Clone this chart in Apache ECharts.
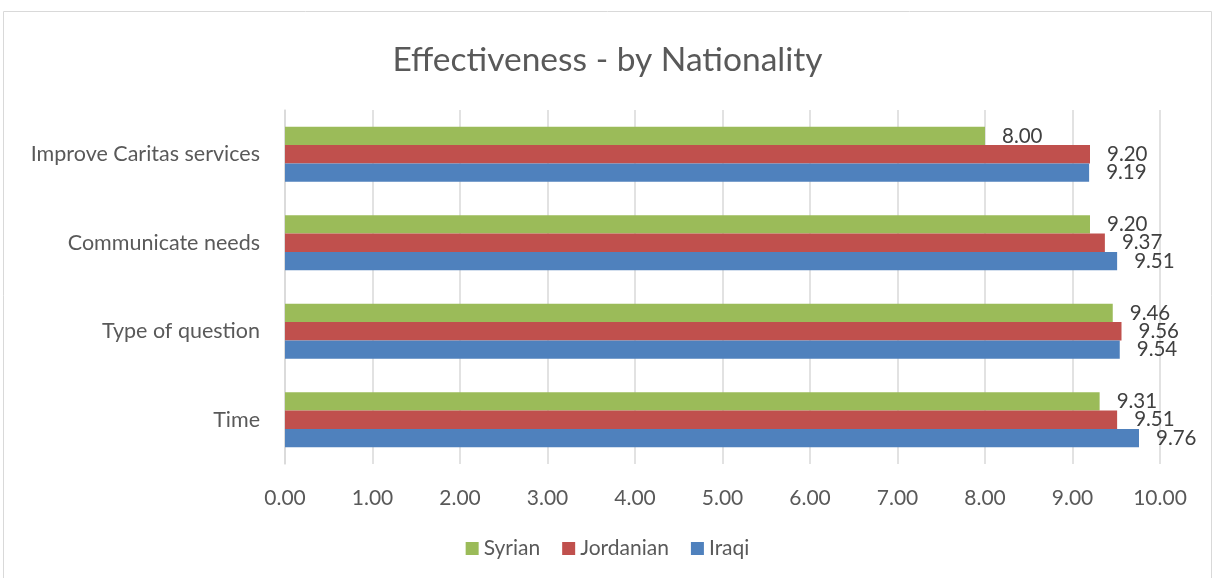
<!DOCTYPE html>
<html>
<head>
<meta charset="utf-8">
<script src="https://cdn.jsdelivr.net/npm/echarts@6/dist/echarts.min.js"></script>
<style>
  html, body { margin: 0; padding: 0; background: #fff; }
  #chart { width: 1215px; height: 578px; }
</style>
</head>
<body>
<div id="chart"></div>
<script>
// Categories listed bottom to top along the value axis
const categories = ['Time', 'Type of question', 'Communicate needs', 'Improve Caritas services'];
const syrian    = [9.31, 9.46, 9.20, 8.00];
const jordanian = [9.51, 9.56, 9.37, 9.20];
const iraqi     = [9.76, 9.54, 9.51, 9.19];
const xTicks = { min: 0, max: 10, interval: 1 };

const FONT = 'Lato';
const TEXT = '#595959';

const chart = echarts.init(document.getElementById('chart'), null, { renderer: 'canvas' });

function barSeries(name, values, color) {
  return {
    name: name,
    type: 'bar',
    data: values,
    barGap: '0%',
    barCategoryGap: '38%',
    itemStyle: { color: color },
    label: {
      show: true,
      position: 'right',
      distance: 17,
      formatter: p => p.value.toFixed(2),
      fontFamily: FONT,
      fontSize: 20.5,
      color: '#404040'
    }
  };
}

chart.setOption({
  animation: false,
  title: {
    text: 'Effectiveness - by Nationality',
    left: 'center',
    top: 38,
    textStyle: { fontFamily: FONT, fontSize: 33.5, fontWeight: 'normal', color: TEXT }
  },
  legend: {
    data: ['Syrian', 'Jordanian', 'Iraqi'],
    bottom: 14,
    left: 'center',
    itemWidth: 13,
    itemHeight: 13,
    itemGap: 22,
    icon: 'rect',
    textStyle: { fontFamily: FONT, fontSize: 21, color: TEXT }
  },
  grid: { left: 285, right: 55, top: 110, bottom: 114 },
  xAxis: {
    type: 'value',
    min: xTicks.min,
    max: xTicks.max,
    interval: xTicks.interval,
    axisLine: { show: false },
    axisTick: { show: false },
    axisLabel: {
      formatter: v => v.toFixed(2),
      fontFamily: FONT, fontSize: 21, color: TEXT, margin: 24
    },
    splitLine: { lineStyle: { color: '#d9d9d9', width: 1.5 } }
  },
  yAxis: {
    type: 'category',
    data: categories,
    axisLine: { show: true, lineStyle: { color: '#d9d9d9', width: 1.5 } },
    axisTick: { show: false },
    axisLabel: { fontFamily: FONT, fontSize: 21.5, color: TEXT, margin: 25 }
  },
  series: [
    barSeries('Syrian', syrian, '#9BBB59'),
    barSeries('Jordanian', jordanian, '#C0504D'),
    barSeries('Iraqi', iraqi, '#4F81BD')
  ],
  graphic: [{
    type: 'rect',
    shape: { x: 3.5, y: 11.5, width: 1208, height: 580 },
    style: { fill: 'none', stroke: '#d9d9d9', lineWidth: 1 },
    silent: true
  }]
});
</script>
</body>
</html>
